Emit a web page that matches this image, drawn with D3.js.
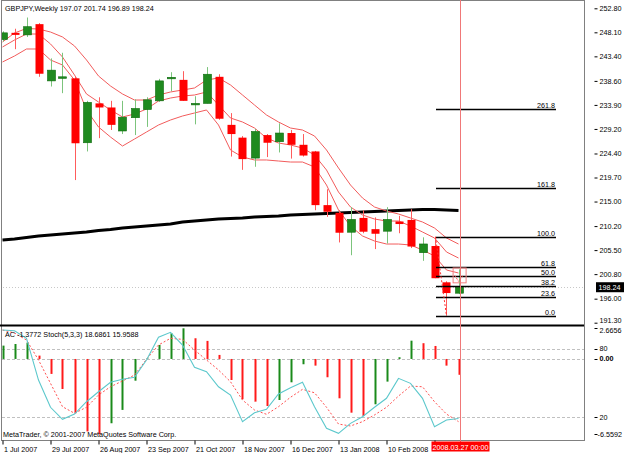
<!DOCTYPE html>
<html><head><meta charset="utf-8">
<script src="https://cdn.jsdelivr.net/npm/d3@7"></script>
<style>
body{margin:0;background:#fff}
svg{display:block}
text{font-family:"Liberation Sans",Arial,sans-serif;font-size:7.2px;fill:#000}
</style></head><body>
<svg id="chart" width="625" height="453"></svg>
<script>
// ---------- DATA ----------
const symbolTitle = "GBPJPY,Weekly";
const dateLabels = ["1 Jul 2007","29 Jul 2007","26 Aug 2007","23 Sep 2007","21 Oct 2007","18 Nov 2007","16 Dec 2007","13 Jan 2008","10 Feb 2008"];
const dateIndex  = [0,4,8,12,16,20,24,28,32];
const cursorLabel = "2008.03.27 00:00";
const cursorIndex = 38.1;

const open  = [246.7,248.0,247.6,249.7,238.6,239.1,239.1,226.5,234.2,233.4,228.8,231.4,233.0,234.7,239.1,238.8,234.0,234.2,239.4,230.0,227.5,223.5,228.0,226.7,228.4,226.1,224.8,214.3,212.8,209.0,211.8,209.6,209.2,211.1,211.4,205.0,206.3,199.2,197.07];
const high  = [248.3,248.8,251.0,249.9,243.0,244.1,239.4,234.7,235.4,234.7,234.7,235.0,235.4,239.0,240.3,240.5,235.6,241.3,239.9,232.3,227.8,229.2,228.2,230.3,229.0,228.2,224.9,217.4,213.3,213.9,213.3,211.9,213.9,212.2,213.5,208.0,208.1,199.4,201.74];
const low   = [246.3,244.8,247.2,239.4,237.5,236.2,219.2,224.8,227.4,229.0,228.2,228.0,229.6,234.5,236.6,234.7,230.1,234.2,231.0,223.8,221.2,221.8,223.7,224.6,223.4,223.8,213.3,212.0,207.0,204.5,208.8,205.7,206.8,208.8,205.9,203.4,200.0,192.67,196.89];
const close = [248.0,247.6,249.2,240.0,240.7,239.4,226.4,234.4,233.4,230.0,231.5,233.2,234.9,238.6,239.3,234.7,234.2,239.9,231.2,228.2,223.3,228.7,226.5,228.4,226.1,224.0,214.3,213.0,208.9,211.5,209.1,208.7,211.5,210.6,206.2,206.7,200.0,197.1,198.24];

const maTop = [246.21,247.97,248.85,248.75,248.16,247.19,245.43,242.69,239.56,237.6,236.04,234.86,234.86,235.84,236.43,236.82,237.21,238.77,239.17,237.8,235.84,233.88,231.93,230.56,229.38,228.99,227.82,225.08,221.56,218.23,215.69,213.93,213.15,212.56,211.78,211.0,209.82,207.87,206.69];
const maMid = [245.23,246.6,247.77,247.77,245.82,243.27,239.75,236.04,234.47,232.91,231.54,232.12,233.1,234.67,235.25,235.64,235.84,236.43,233.88,231.34,230.56,229.38,227.43,226.45,226.06,225.47,224.1,221.17,216.86,213.93,212.37,211.58,211.19,211.19,210.21,209.04,207.87,205.13,203.95];
const maBot = [242.3,243.47,244.84,244.84,242.69,241.71,238.77,232.91,229.58,227.62,225.86,227.23,228.6,229.97,230.95,231.73,232.32,232.91,229.97,225.08,223.71,223.13,223.13,222.93,222.73,222.73,221.76,218.23,213.34,210.21,208.26,207.28,206.69,206.69,206.5,205.52,204.35,201.61,201.02];
const maLong = [207.47,207.67,207.96,208.26,208.45,208.65,208.84,209.04,209.33,209.53,209.82,210.02,210.21,210.41,210.6,211.0,211.19,211.39,211.58,211.68,211.78,211.97,212.07,212.17,212.37,212.46,212.56,212.66,212.76,212.85,212.95,213.05,213.15,213.25,213.34,213.44,213.44,213.34,213.25];

const priceTicks = [252.80,248.10,243.40,238.60,233.90,229.20,224.40,219.70,215.00,210.20,205.50,200.80,196.00,191.30];
const bidPrice = 198.24;

const fibHigh = 208.12, fibLow = 192.67;
const fibLevels = [0,23.6,38.2,50,61.8,100,161.8,261.8];
const fibStartIndex = 36, fibEndIndex = 37;

const ac = [1.16,1.30,1.42,0.29,-1.30,-2.61,-4.72,-6.3,-6.5592,-5.59,-4.43,-1.89,0.05,1.22,2.23,2.6656,1.8,1.57,0.35,-1.83,-3.5,-3.71,-4.09,-3.57,-2.03,-0.46,-0.58,-1.59,-3.42,-4.67,-4.96,-3.94,-1.97,0.15,1.59,1.37,1.13,-0.58,-1.3772];
const stochMain = [96.7,96.1,89.4,52.6,28.6,18.0,22.6,33.5,42.3,50.6,53.3,55.0,70.3,90.3,94.7,83.5,63.8,60.0,46.7,39.4,15.9,23.8,26.8,40.3,45.8,50.6,29.1,10.0,5.6,14.4,20.3,28.6,36.5,54.1,49.7,36.5,11.4,17.4,18.6861];
const stochSignal = [96.7,94.1,87.9,70.3,49.7,29.1,23.3,28.6,39.4,46.7,51.8,57.0,70.9,83.5,89.4,88.5,79.1,70.3,61.5,51.1,35.0,26.2,22.4,29.1,37.4,44.4,41.4,28.6,13.8,12.1,15.9,21.8,28.6,38.5,47.3,46.7,33.5,22.6,15.9588];
const subTitle = "AC -1.3772  Stoch(5,3,3) 18.6861 15.9588";
const copyright = "MetaTrader, \u00A9 2001-2007 MetaQuotes Software Corp.";

// ---------- SCALES ----------
const svg = d3.select("#chart");
const x = d3.scaleLinear().domain([0, 48.5]).range([2.5, 584.5]);
const yP = d3.scaleLinear().domain([191.3, 252.8]).range([322.7, 8.3]);
const yAC = d3.scaleLinear().domain([-6.5592, 2.6656]).range([434.4, 328.3]);
const yST = d3.scaleLinear().domain([0, 100]).range([439.7, 326.3]);

const G_UP = "#1f8a1f", G_WICK = "#7cc47c", R_DN = "#ff0000", R_WICK = "#ff5c5c", MA_RED = "#f25c5c";

svg.append("clipPath").attr("id","mainClip").append("rect").attr("x",2).attr("y",2).attr("width",582).attr("height",322);
svg.append("clipPath").attr("id","subClip").append("rect").attr("x",2).attr("y",327).attr("width",582).attr("height",113);

// frames
svg.append("rect").attr("x",1.5).attr("y",0.5).attr("width",583).attr("height",440).attr("fill","none").attr("stroke","#808080");
svg.append("line").attr("x1",0).attr("x2",585).attr("y1",325.5).attr("y2",325.5).attr("stroke","#000").attr("stroke-width",2);

const main = svg.append("g").attr("clip-path","url(#mainClip)");
const sub = svg.append("g").attr("clip-path","url(#subClip)");

// bid line
main.append("line").attr("x1",0).attr("x2",584).attr("y1",Math.round(yP(bidPrice))+0.5).attr("y2",Math.round(yP(bidPrice))+0.5)
  .attr("stroke","#c8c8c8").attr("stroke-dasharray","1,2");

// long MA (black)
main.append("path").datum(maLong).attr("fill","none").attr("stroke","#000").attr("stroke-width",3)
  .attr("d", d3.line().x((d,i)=>x(i)).y(d=>yP(d)));

// three red MAs
[maTop, maMid, maBot].forEach(arr=>{
  main.append("path").datum(arr).attr("fill","none").attr("stroke",MA_RED).attr("stroke-width",1)
    .attr("d", d3.line().x((d,i)=>x(i)).y(d=>yP(d)));
});

// candles
const idx = d3.range(open.length);
const cg = main.append("g");
cg.selectAll("line.w").data(idx).join("line")
  .attr("x1",i=>Math.round(x(i))+0.5).attr("x2",i=>Math.round(x(i))+0.5)
  .attr("y1",i=>yP(high[i])).attr("y2",i=>yP(low[i]))
  .attr("stroke",i=>close[i]>=open[i]?G_WICK:R_WICK).attr("stroke-width",1);
cg.selectAll("rect.b").data(idx).join("rect")
  .attr("x",i=>Math.round(x(i))-3.5).attr("width",8)
  .attr("y",i=>Math.min(yP(open[i]),yP(close[i])))
  .attr("height",i=>Math.max(1.5,Math.abs(yP(open[i])-yP(close[i]))))
  .attr("fill",i=>close[i]>=open[i]?G_UP:R_DN)
  .attr("stroke",i=>close[i]>=open[i]?"#0d6b0d":"none").attr("stroke-width",0.6);

// Fibonacci
const fg = main.append("g");
const fx1 = x(fibStartIndex)+1.5, fx2 = 556;
fibLevels.forEach(l=>{
  const p = fibLow + (fibHigh-fibLow)*l/100;
  const yy = Math.round(yP(p))+0.5;
  fg.append("line").attr("x1",fx1).attr("x2",fx2).attr("y1",yy).attr("y2",yy).attr("stroke","#000").attr("stroke-width",1.4);
  fg.append("text").attr("x",fx2-1).attr("y",yy-1.5).attr("text-anchor","end").text(l.toFixed(1));
});
fg.append("line").attr("x1",x(fibStartIndex)+1).attr("y1",yP(fibHigh)).attr("x2",x(fibEndIndex)).attr("y2",yP(fibLow))
  .attr("stroke","#ff3030").attr("stroke-dasharray","2,2");
fg.append("rect").attr("x",x(37.55)).attr("y",yP(202.0)).attr("width",13).attr("height",yP(199.1)-yP(202.0))
  .attr("fill","none").attr("stroke","#f28080");
fg.append("path").attr("d",`M${x(37.7)},${yP(200.5)} L${x(38)},${yP(199.4)} L${x(38.4)},${yP(200.6)}`)
  .attr("fill","none").attr("stroke","#ff3030").attr("stroke-dasharray","1.5,1.5");

// title
svg.append("text").attr("x",5).attr("y",10.5)
  .text(symbolTitle + "  " + [open[38],high[38],low[38],close[38]].map(v=>v.toFixed(2)).join(" "));

// ---------- SUB WINDOW ----------
[80,20].forEach(v=>{
  sub.append("line").attr("x1",2).attr("x2",584).attr("y1",Math.round(yST(v))+0.5).attr("y2",Math.round(yST(v))+0.5)
    .attr("stroke","#c0c0c0").attr("stroke-dasharray","3,2");
});
sub.append("line").attr("x1",2).attr("x2",584).attr("y1",Math.round(yAC(0))+0.5).attr("y2",Math.round(yAC(0))+0.5)
  .attr("stroke","#c0c0c0").attr("stroke-dasharray","3,2");

sub.selectAll("line.ac").data(idx).join("line")
  .attr("x1",i=>Math.round(x(i))+0.5).attr("x2",i=>Math.round(x(i))+0.5)
  .attr("y1",yAC(0)).attr("y2",i=>yAC(ac[i]))
  .attr("stroke",i=>(i===0||ac[i]>ac[i-1])?"#1a8a1a":"#ff1a1a").attr("stroke-width",2);

sub.append("path").datum(stochSignal).attr("fill","none").attr("stroke","#ff5050").attr("stroke-dasharray","2,2")
  .attr("d", d3.line().x((d,i)=>x(i)).y(d=>yST(d)));
sub.append("path").datum(stochMain).attr("fill","none").attr("stroke","#5cc8cc").attr("stroke-width",1.1)
  .attr("d", d3.line().x((d,i)=>x(i)).y(d=>yST(d)));

svg.append("text").attr("x",5).attr("y",336.5).text(subTitle);
svg.append("text").attr("x",3).attr("y",437).text(copyright);

// ---------- AXES ----------
const pAxis = d3.axisRight(yP).tickValues(priceTicks).tickFormat(d3.format(".2f")).tickSize(3).tickPadding(2);
const pa = svg.append("g").attr("transform","translate(594.5,0)").call(pAxis);
pa.select(".domain").remove();
pa.selectAll("line").attr("stroke","#000");
pa.selectAll("text").attr("font-size",null).attr("font-family",null);
pa.selectAll("text").filter(d=>d===191.30).attr("dy","-0.05em");
svg.append("line").attr("x1",584.5).attr("x2",584.5).attr("y1",0).attr("y2",441).attr("stroke","#808080");

// bid label
const by = yP(bidPrice);
svg.append("rect").attr("x",596).attr("y",by-5).attr("width",28).attr("height",10).attr("fill","#000");
svg.append("text").attr("x",598.5).attr("y",by+2.5).style("fill","#fff").text(bidPrice.toFixed(2));

// sub axis labels
const subTicks = [
  {y:yAC(2.6656), t:"2.6656", off:4.2},{y:yST(80), t:"80", off:2.5},{y:yAC(0), t:"0.00", b:true, off:2.5},{y:yST(20), t:"20", off:2.5},{y:yAC(-6.5592), t:"-6.5592", off:2.5}];
const sa = svg.append("g");
subTicks.forEach(s=>{
  sa.append("line").attr("x1",594.5).attr("x2",597.5).attr("y1",Math.round(s.y)+0.5).attr("y2",Math.round(s.y)+0.5).attr("stroke","#000");
  sa.append("text").attr("x",s.t.startsWith("-")?597.5:599.5).attr("y",s.y+s.off).attr("font-weight",s.b?"bold":null).text(s.t);
});

// date axis (ticks for every 4 weeks; label under cursor box hidden)
const tickIdx = dateIndex.concat([36]);
const dAxis = d3.axisBottom(x).tickValues(tickIdx).tickFormat((d,i)=>dateLabels[i]||"").tickSize(4).tickPadding(2);
const da = svg.append("g").attr("transform","translate(0,440.5)").call(dAxis);
da.select(".domain").remove();
da.selectAll("text").attr("text-anchor","start").attr("x",1).attr("dy","0.71em").attr("font-size",null).attr("font-family",null);
da.selectAll("text").filter(function(){return this.textContent==="";}).remove();

// cursor line + box
const cx = Math.round(x(cursorIndex))+0.5;
svg.append("line").attr("x1",cx).attr("x2",cx).attr("y1",0).attr("y2",442).attr("stroke","#f07878").attr("stroke-width",1);
svg.append("rect").attr("x",cx-29).attr("y",441.5).attr("width",58).attr("height",10).attr("fill","#ff0000");
svg.append("text").attr("x",cx).attr("y",449.5).attr("text-anchor","middle").style("fill","#fff").text(cursorLabel);
</script></body></html>
